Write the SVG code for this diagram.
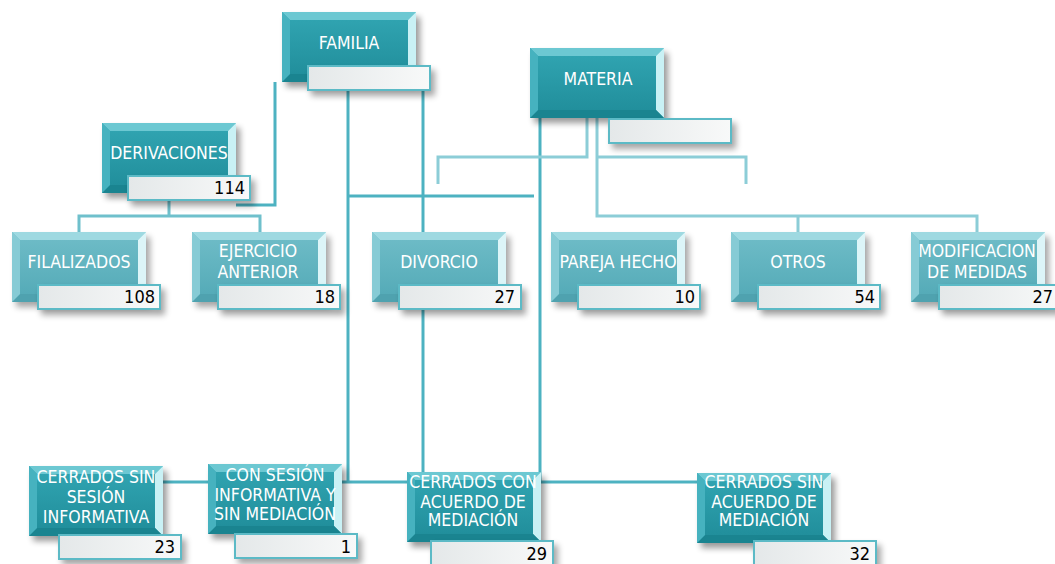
<svg xmlns="http://www.w3.org/2000/svg" xmlns:xlink="http://www.w3.org/1999/xlink" width="1055" height="564" viewBox="0 0 1055 564">
<style>
.c{fill:none;stroke:#4db2c1;stroke-width:3;stroke-linejoin:miter}
.cl{fill:none;stroke:#8ccdd7;stroke-width:3}
.cm{fill:none;stroke:#6fc0cc;stroke-width:3}
.t{font-family:"DejaVu Sans Condensed","DejaVu Sans",sans-serif;font-stretch:condensed;font-size:17.5px;fill:#ffffff;text-anchor:middle}
.n{font-family:"DejaVu Sans Condensed","DejaVu Sans",sans-serif;font-stretch:condensed;font-size:18px;fill:#000000;text-anchor:end}
</style>
<defs>
<filter id="sh" x="-20%" y="-30%" width="140%" height="160%"><feGaussianBlur stdDeviation="3"/></filter>
<linearGradient id="gd" x1="0" y1="0" x2="0" y2="1"><stop offset="0" stop-color="#32a6b3"/><stop offset="1" stop-color="#1f8c99"/></linearGradient>
<linearGradient id="gl" x1="0" y1="0" x2="0" y2="1"><stop offset="0" stop-color="#70bdc8"/><stop offset="1" stop-color="#52a9b6"/></linearGradient>
<linearGradient id="gb" x1="0" y1="0" x2="1" y2="0"><stop offset="0" stop-color="#e4e8e9"/><stop offset="1" stop-color="#f8f9f9"/></linearGradient>
<g id="bd">
<rect x="4" y="5" width="134" height="70" fill="#000" opacity="0.4" filter="url(#sh)"/>
<rect x="0" y="0" width="134" height="70" fill="url(#gd)"/>
<polygon points="0,0 134,0 126,8 8,8" fill="#6cc8d2"/>
<polygon points="134,0 134,70 126,62 126,8" fill="#c9f1f5"/>
<polygon points="0,70 134,70 126,62 8,62" fill="#1a8490"/>
<polygon points="0,0 0,70 8,62 8,8" fill="#46b2bf"/>
</g>
<g id="bl">
<rect x="4" y="5" width="134" height="70" fill="#000" opacity="0.35" filter="url(#sh)"/>
<rect x="0" y="0" width="134" height="70" fill="url(#gl)"/>
<polygon points="0,0 134,0 126,8 8,8" fill="#9ed9e1"/>
<polygon points="134,0 134,70 126,62 126,8" fill="#dcf5f8"/>
<polygon points="0,70 134,70 126,62 8,62" fill="#4fa2af"/>
<polygon points="0,0 0,70 8,62 8,8" fill="#86cbd5"/>
</g>
<g id="vb">
<rect x="4" y="5" width="124" height="26" fill="#000" opacity="0.35" filter="url(#sh)"/>
<rect x="1" y="1" width="122" height="24" fill="url(#gb)" stroke="#5cbac6" stroke-width="2"/>
</g>
</defs>

<g id="connectors">
<path class="c" d="M348,91 V482"/>
<path class="c" d="M423,91 V232"/>
<path class="c" d="M348,196 H534"/>
<path class="c" d="M540,117 V482"/>
<path class="c" d="M423,310 V472"/>
<path class="c" d="M163,482 H697"/>
<path class="c" d="M275,82 V205 H236"/>
<path class="cl" d="M587,117 V157 H438 V184"/>
<path class="cl" d="M597,117 V216 H977 V232 M798,216 V232"/>
<path class="cl" d="M597,157 H746 V184"/>
<path class="cm" d="M169,201 V216 M79,232 V216 H260 V232"/>
</g>

<g id="familia">
<use xlink:href="#bd" x="282" y="12"/>
<use xlink:href="#vb" x="307" y="65"/>
<text class="t" x="349" y="49">FAMILIA</text>
</g>
<g id="materia">
<use xlink:href="#bd" x="530" y="48"/>
<use xlink:href="#vb" x="608" y="118"/>
<text class="t" x="598" y="85">MATERIA</text>
</g>
<g id="derivaciones">
<use xlink:href="#bd" x="102" y="123"/>
<use xlink:href="#vb" x="127" y="175"/>
<text class="t" x="169" y="159">DERIVACIONES</text>
<text class="n" x="245" y="194">114</text>
</g>

<g id="filalizados">
<use xlink:href="#bl" x="12" y="232"/>
<use xlink:href="#vb" x="37" y="284"/>
<text class="t" x="79" y="268">FILALIZADOS</text>
<text class="n" x="155" y="303">108</text>
</g>
<g id="ejercicio-anterior">
<use xlink:href="#bl" x="192" y="232"/>
<use xlink:href="#vb" x="217" y="284"/>
<text class="t" x="258" y="257">EJERCICIO</text>
<text class="t" x="258" y="278">ANTERIOR</text>
<text class="n" x="335" y="303">18</text>
</g>
<g id="divorcio">
<use xlink:href="#bl" x="372" y="232"/>
<use xlink:href="#vb" x="398" y="284"/>
<text class="t" x="439" y="268">DIVORCIO</text>
<text class="n" x="515" y="303">27</text>
</g>
<g id="pareja-hecho">
<use xlink:href="#bl" x="551" y="232"/>
<use xlink:href="#vb" x="577" y="284"/>
<text class="t" x="618" y="268">PAREJA HECHO</text>
<text class="n" x="695" y="303">10</text>
</g>
<g id="otros">
<use xlink:href="#bl" x="731" y="232"/>
<use xlink:href="#vb" x="757" y="284"/>
<text class="t" x="798" y="268">OTROS</text>
<text class="n" x="875" y="303">54</text>
</g>
<g id="modificacion-medidas">
<use xlink:href="#bl" x="911" y="232"/>
<use xlink:href="#vb" x="938" y="284"/>
<text class="t" x="977" y="257">MODIFICACION</text>
<text class="t" x="977" y="278">DE MEDIDAS</text>
<text class="n" x="1053" y="303">27</text>
</g>

<g id="cerrados-sin-sesion">
<use xlink:href="#bd" x="29" y="466"/>
<use xlink:href="#vb" x="58" y="534"/>
<text class="t" x="96" y="483">CERRADOS SIN</text>
<text class="t" x="96" y="503">SESIÓN</text>
<text class="t" x="96" y="523">INFORMATIVA</text>
<text class="n" x="175" y="553">23</text>
</g>
<g id="con-sesion-sin-mediacion">
<use xlink:href="#bd" x="208" y="464"/>
<use xlink:href="#vb" x="234" y="533"/>
<text class="t" x="275" y="481">CON SESIÓN</text>
<text class="t" x="275" y="501">INFORMATIVA Y</text>
<text class="t" x="275" y="520">SIN MEDIACIÓN</text>
<text class="n" x="351" y="553">1</text>
</g>
<g id="cerrados-con-acuerdo">
<use xlink:href="#bd" x="407" y="472"/>
<use xlink:href="#vb" x="430" y="540"/>
<text class="t" x="473" y="488">CERRADOS CON</text>
<text class="t" x="473" y="508">ACUERDO DE</text>
<text class="t" x="473" y="526">MEDIACIÓN</text>
<text class="n" x="547" y="560">29</text>
</g>
<g id="cerrados-sin-acuerdo">
<use xlink:href="#bd" x="697" y="473"/>
<use xlink:href="#vb" x="753" y="540"/>
<text class="t" x="764" y="488">CERRADOS SIN</text>
<text class="t" x="764" y="508">ACUERDO DE</text>
<text class="t" x="764" y="526">MEDIACIÓN</text>
<text class="n" x="870" y="560">32</text>
</g>
</svg>
